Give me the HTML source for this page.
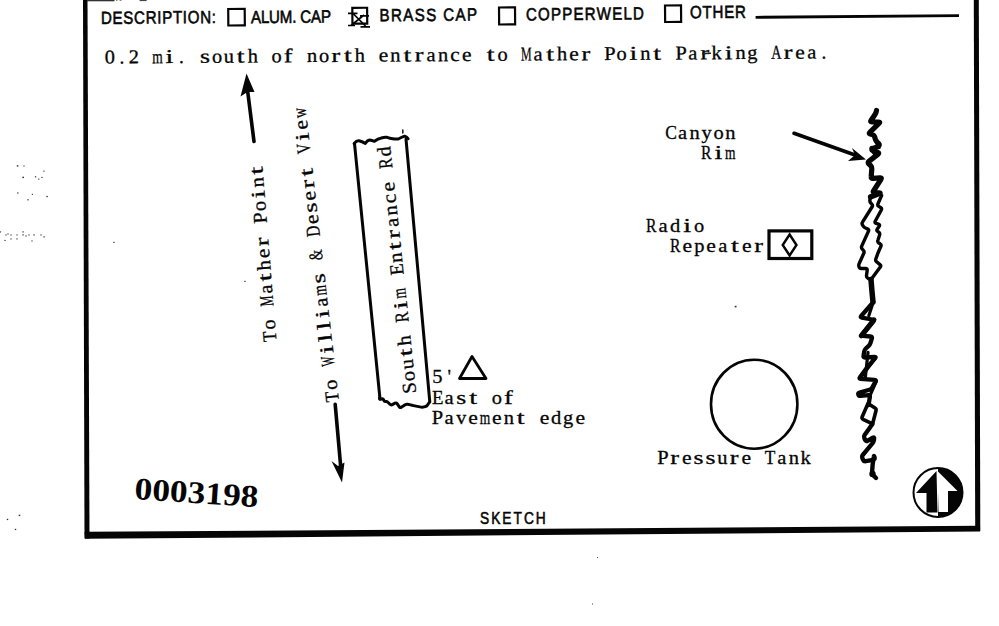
<!DOCTYPE html>
<html><head><meta charset="utf-8">
<style>
html,body{margin:0;padding:0;background:#fff;width:999px;height:626px;overflow:hidden}
svg{position:absolute;left:0;top:0;display:block}
.s{font-family:"Liberation Sans",sans-serif;font-size:17.6px;fill:#050505;stroke:#050505;stroke-width:.6px}
.tw{font-family:"Liberation Serif",serif;font-size:19.5px;fill:#050505;stroke:#050505;stroke-width:.3px}
.n{font-family:"Liberation Serif",serif;font-size:31.5px;font-weight:bold;fill:#050505}
</style></head>
<body>
<svg width="999" height="626" viewBox="0 0 999 626">
<!-- frame -->
<polygon points="83,0 87.5,0 89.5,538.5 84.5,538.5" fill="#050505"/>
<polygon points="84.5,531.8 980,525.8 980,531.5 85,538.8" fill="#050505"/>
<polygon points="973.8,0 978.8,0 980.3,531 975.2,531" fill="#050505"/>
<rect x="87" y="0" width="27.5" height="1.3" fill="#333"/><rect x="116" y="0" width="1.5" height="0.9" fill="#777"/><rect x="119.5" y="0" width="2" height="0.9" fill="#777"/><rect x="139.6" y="0" width="7" height="1.1" fill="#444"/>

<!-- header row -->
<g class="s">
<text transform="translate(101 24) rotate(-0.5) scale(0.86 1)" x="0" y="0" textLength="133.7" lengthAdjust="spacing">DESCRIPTION:</text>
<text transform="translate(251 23.2) rotate(-0.5) scale(0.86 1)" x="0" y="0" textLength="93.0" lengthAdjust="spacing">ALUM. CAP</text>
<text transform="translate(379.5 21.3) rotate(-0.5) scale(0.86 1)" x="0" y="0" textLength="113.4" lengthAdjust="spacing">BRASS CAP</text>
<text transform="translate(526 20.4) rotate(-0.5) scale(0.86 1)" x="0" y="0" textLength="137.2" lengthAdjust="spacing">COPPERWELD</text>
<text transform="translate(690 18.3) rotate(-0.5) scale(0.86 1)" x="0" y="0" textLength="65.1" lengthAdjust="spacing">OTHER</text>
</g>
<g fill="none" stroke="#050505" stroke-width="2.2">
<rect x="228.2" y="9" width="16.5" height="16.5" transform="rotate(-0.5 228 9)"/>
<rect x="499" y="7.5" width="16" height="17" transform="rotate(-0.5 499 7)"/>
<rect x="665" y="5.5" width="16" height="16.5" transform="rotate(-0.5 665 5)"/>
<rect x="352.3" y="7.9" width="14.8" height="15.8" transform="rotate(-0.5 351 7)"/>
</g>
<path d="M353,13.5 L365.5,26 M364,15 L351,25.5 M348,13.3 L357.5,13.3 M360,15.8 L369,15.8 M348,25.5 L355,25.5 M360.5,26.8 L370,26.8" stroke="#050505" stroke-width="1.7" fill="none"/>
<polygon points="755.6,15.9 959,14.2 959,16.9 755.6,18.8" fill="#050505"/>

<!-- description line -->
<g transform="translate(104 63.5) rotate(-0.4)"><text class="tw" transform="translate(0.83 0) scale(1.050 1)">0</text><text class="tw" x="15.41">.</text><text class="tw" transform="translate(24.75 0) scale(1.050 1)">2</text><text class="tw" transform="translate(48.27 0) scale(0.692 1)">m</text><text class="tw" transform="translate(61.49 0) scale(1.450 1)">i</text><text class="tw" x="74.91">.</text><text class="tw" transform="translate(96.10 0) scale(1.315 1)">s</text><text class="tw" transform="translate(107.93 0) scale(1.050 1)">o</text><text class="tw" transform="translate(119.87 0) scale(1.050 1)">u</text><text class="tw" transform="translate(132.87 0) scale(1.450 1)">t</text><text class="tw" transform="translate(143.67 0) scale(1.050 1)">h</text><text class="tw" transform="translate(167.43 0) scale(1.050 1)">o</text><text class="tw" transform="translate(179.64 0) scale(1.357 1)">f</text><text class="tw" transform="translate(203.05 0) scale(1.050 1)">n</text><text class="tw" transform="translate(215.03 0) scale(1.050 1)">o</text><text class="tw" transform="translate(227.52 0) scale(1.349 1)">r</text><text class="tw" transform="translate(239.97 0) scale(1.450 1)">t</text><text class="tw" transform="translate(250.77 0) scale(1.050 1)">h</text><text class="tw" transform="translate(274.81 0) scale(1.108 1)">e</text><text class="tw" transform="translate(286.35 0) scale(1.050 1)">n</text><text class="tw" transform="translate(299.47 0) scale(1.450 1)">t</text><text class="tw" transform="translate(310.82 0) scale(1.349 1)">r</text><text class="tw" transform="translate(322.49 0) scale(1.050 1)">a</text><text class="tw" transform="translate(333.95 0) scale(1.050 1)">n</text><text class="tw" transform="translate(346.24 0) scale(1.094 1)">c</text><text class="tw" transform="translate(358.11 0) scale(1.108 1)">e</text><text class="tw" transform="translate(382.77 0) scale(1.450 1)">t</text><text class="tw" transform="translate(393.53 0) scale(1.050 1)">o</text><text class="tw" transform="translate(417.10 0) scale(0.617 1)">M</text><text class="tw" transform="translate(429.59 0) scale(1.050 1)">a</text><text class="tw" transform="translate(442.27 0) scale(1.450 1)">t</text><text class="tw" transform="translate(453.07 0) scale(1.050 1)">h</text><text class="tw" transform="translate(465.21 0) scale(1.108 1)">e</text><text class="tw" transform="translate(477.42 0) scale(1.349 1)">r</text><text class="tw" transform="translate(500.17 0) scale(1.050 1)">P</text><text class="tw" transform="translate(512.53 0) scale(1.050 1)">o</text><text class="tw" transform="translate(525.59 0) scale(1.450 1)">i</text><text class="tw" transform="translate(536.25 0) scale(1.050 1)">n</text><text class="tw" transform="translate(549.37 0) scale(1.450 1)">t</text><text class="tw" transform="translate(571.57 0) scale(1.050 1)">P</text><text class="tw" transform="translate(584.29 0) scale(1.050 1)">a</text><text class="tw" transform="translate(596.42 0) scale(1.349 1)">r</text><text class="tw" transform="translate(607.54 0) scale(1.050 1)">k</text><text class="tw" transform="translate(620.79 0) scale(1.450 1)">i</text><text class="tw" transform="translate(631.45 0) scale(1.050 1)">n</text><text class="tw" transform="translate(643.19 0) scale(1.050 1)">g</text><text class="tw" transform="translate(667.21 0) scale(0.727 1)">A</text><text class="tw" transform="translate(679.72 0) scale(1.349 1)">r</text><text class="tw" transform="translate(691.31 0) scale(1.108 1)">e</text><text class="tw" transform="translate(703.29 0) scale(1.050 1)">a</text><text class="tw" x="717.51">.</text></g>

<!-- rotated labels -->
<g transform="translate(276.5 342) rotate(-94.6)"><text class="tw" transform="translate(0.64 0) scale(0.890 1)">T</text><text class="tw" transform="translate(12.73 0) scale(1.050 1)">o</text><text class="tw" transform="translate(36.30 0) scale(0.617 1)">M</text><text class="tw" transform="translate(48.79 0) scale(1.050 1)">a</text><text class="tw" transform="translate(61.47 0) scale(1.450 1)">t</text><text class="tw" transform="translate(72.27 0) scale(1.050 1)">h</text><text class="tw" transform="translate(84.41 0) scale(1.108 1)">e</text><text class="tw" transform="translate(96.62 0) scale(1.349 1)">r</text><text class="tw" transform="translate(119.37 0) scale(1.050 1)">P</text><text class="tw" transform="translate(131.73 0) scale(1.050 1)">o</text><text class="tw" transform="translate(144.79 0) scale(1.450 1)">i</text><text class="tw" transform="translate(155.45 0) scale(1.050 1)">n</text><text class="tw" transform="translate(168.57 0) scale(1.450 1)">t</text></g>
<g transform="translate(339 402) rotate(-96.5)"><text class="tw" transform="translate(0.64 0) scale(0.890 1)">T</text><text class="tw" transform="translate(12.73 0) scale(1.050 1)">o</text><text class="tw" transform="translate(36.64 0) scale(0.545 1)">W</text><text class="tw" transform="translate(49.59 0) scale(1.450 1)">i</text><text class="tw" transform="translate(61.52 0) scale(1.450 1)">l</text><text class="tw" transform="translate(73.42 0) scale(1.450 1)">l</text><text class="tw" transform="translate(85.29 0) scale(1.450 1)">i</text><text class="tw" transform="translate(96.39 0) scale(1.050 1)">a</text><text class="tw" transform="translate(107.77 0) scale(0.692 1)">m</text><text class="tw" transform="translate(119.90 0) scale(1.315 1)">s</text><text class="tw" transform="translate(143.22 0) scale(0.711 1)">&amp;</text><text class="tw" transform="translate(167.11 0) scale(0.785 1)">D</text><text class="tw" transform="translate(179.61 0) scale(1.108 1)">e</text><text class="tw" transform="translate(191.30 0) scale(1.315 1)">s</text><text class="tw" transform="translate(203.41 0) scale(1.108 1)">e</text><text class="tw" transform="translate(215.62 0) scale(1.349 1)">r</text><text class="tw" transform="translate(228.07 0) scale(1.450 1)">t</text><text class="tw" transform="translate(250.69 0) scale(0.733 1)">V</text><text class="tw" transform="translate(263.79 0) scale(1.450 1)">i</text><text class="tw" transform="translate(274.81 0) scale(1.108 1)">e</text><text class="tw" transform="translate(286.54 0) scale(0.715 1)">w</text></g>
<g transform="translate(416.3 393.3) rotate(-96)"><text class="tw" transform="translate(0.21 0) scale(1.050 1)">S</text><text class="tw" transform="translate(12.73 0) scale(1.050 1)">o</text><text class="tw" transform="translate(24.67 0) scale(1.050 1)">u</text><text class="tw" transform="translate(37.67 0) scale(1.450 1)">t</text><text class="tw" transform="translate(48.47 0) scale(1.050 1)">h</text><text class="tw" transform="translate(71.90 0) scale(0.805 1)">R</text><text class="tw" transform="translate(85.29 0) scale(1.450 1)">i</text><text class="tw" transform="translate(95.87 0) scale(0.692 1)">m</text><text class="tw" transform="translate(119.41 0) scale(0.964 1)">E</text><text class="tw" transform="translate(131.65 0) scale(1.050 1)">n</text><text class="tw" transform="translate(144.77 0) scale(1.450 1)">t</text><text class="tw" transform="translate(156.12 0) scale(1.349 1)">r</text><text class="tw" transform="translate(167.79 0) scale(1.050 1)">a</text><text class="tw" transform="translate(179.25 0) scale(1.050 1)">n</text><text class="tw" transform="translate(191.54 0) scale(1.094 1)">c</text><text class="tw" transform="translate(203.41 0) scale(1.108 1)">e</text><text class="tw" transform="translate(226.60 0) scale(0.805 1)">R</text><text class="tw" transform="translate(238.59 0) scale(1.050 1)">d</text></g>

<!-- arrows -->
<g stroke="#050505" stroke-width="3.6" fill="none" stroke-linecap="round">
<line x1="254" y1="141.5" x2="247.5" y2="90"/>
<line x1="335.2" y1="404.4" x2="341" y2="470"/>
<line x1="794" y1="133.3" x2="855" y2="155"/>
</g>
<polygon points="246.5,73.5 240.5,96.5 247.5,92 254.5,92" fill="#050505"/>
<polygon points="342,482.5 331.5,461 338,466 344.5,462.5" fill="#050505"/>
<polygon points="866,159.5 852,148 855,155 848,161" fill="#050505"/>

<!-- road box -->
<g stroke="#050505" stroke-width="3" fill="none" stroke-linejoin="round" stroke-linecap="round">
<path d="M354.5,143.5 L380,399"/>
<path d="M406,139 L429.8,402"/>
<path d="M354.1,143.6 Q356.5,140.5 359,140.8 Q362,141.5 365.3,143.4 Q367.5,140.3 369.5,140.1 Q372,140.5 374.4,141.3 Q378,138.5 381.4,138 Q384,137 387,137.3 Q390,138.3 392.7,138.7 Q395.5,139.3 398.3,139 Q401,137.5 404.6,136.2 Q407,137 408.1,138.7"/>
<path d="M379.5,398.0 L379.6,398.9 Q379.8,399.7 381.2,399.1 L381.6,398.9 Q383.0,398.3 383.6,399.7 L383.8,400.4 Q384.4,401.8 385.6,401.5 L385.6,401.5 Q386.8,401.1 387.9,402.2 L389.9,404.2 Q391.0,405.3 392.3,404.6 L395.0,403.2 Q396.3,402.5 397.1,403.7 L399.3,406.9 Q400.1,408.1 401.3,407.3 L405.2,404.7 Q406.4,403.9 407.9,404.3 L410.5,404.9 Q412.0,405.3 413.5,405.6 L421.1,407.1 Q422.6,407.4 424.0,406.9 L425.4,406.5 Q426.8,406.0 427.6,404.8 L429.5,402.0"/>
<path d="M402.8,130 L402.8,133" stroke-width="1.4"/>
</g>

<!-- 5' triangle -->
<g transform="translate(431.5 383.3)"><text class="tw" transform="translate(0.64 0) scale(1.050 1)">5</text><text class="tw" x="16.09">&#x27;</text></g>
<polygon points="472,356.5 459.5,378.5 486,378.5" fill="none" stroke="#050505" stroke-width="2.8" stroke-linejoin="round"/>
<g transform="translate(431.5 404)"><text class="tw" transform="translate(0.41 0) scale(0.964 1)">E</text><text class="tw" transform="translate(13.09 0) scale(1.050 1)">a</text><text class="tw" transform="translate(24.70 0) scale(1.315 1)">s</text><text class="tw" transform="translate(37.67 0) scale(1.450 1)">t</text><text class="tw" transform="translate(60.33 0) scale(1.050 1)">o</text><text class="tw" transform="translate(72.54 0) scale(1.357 1)">f</text></g>
<g transform="translate(431.5 424.4)"><text class="tw" transform="translate(0.37 0) scale(1.050 1)">P</text><text class="tw" transform="translate(13.09 0) scale(1.050 1)">a</text><text class="tw" transform="translate(24.75 0) scale(1.026 1)">v</text><text class="tw" transform="translate(36.81 0) scale(1.108 1)">e</text><text class="tw" transform="translate(48.27 0) scale(0.692 1)">m</text><text class="tw" transform="translate(60.61 0) scale(1.108 1)">e</text><text class="tw" transform="translate(72.15 0) scale(1.050 1)">n</text><text class="tw" transform="translate(85.27 0) scale(1.450 1)">t</text><text class="tw" transform="translate(108.21 0) scale(1.108 1)">e</text><text class="tw" transform="translate(119.59 0) scale(1.050 1)">d</text><text class="tw" transform="translate(131.49 0) scale(1.050 1)">g</text><text class="tw" transform="translate(143.91 0) scale(1.108 1)">e</text></g>

<!-- right side labels -->
<g transform="translate(665 139.3)"><text class="tw" transform="translate(0.23 0) scale(0.898 1)">C</text><text class="tw" transform="translate(13.09 0) scale(1.050 1)">a</text><text class="tw" transform="translate(24.55 0) scale(1.050 1)">n</text><text class="tw" transform="translate(36.45 0) scale(1.050 1)">y</text><text class="tw" transform="translate(48.43 0) scale(1.050 1)">o</text><text class="tw" transform="translate(60.25 0) scale(1.050 1)">n</text></g>
<g transform="translate(700.5 158.8)"><text class="tw" transform="translate(0.50 0) scale(0.805 1)">R</text><text class="tw" transform="translate(13.89 0) scale(1.450 1)">i</text><text class="tw" transform="translate(24.47 0) scale(0.692 1)">m</text></g>
<g transform="translate(645.5 231.6)"><text class="tw" transform="translate(0.50 0) scale(0.805 1)">R</text><text class="tw" transform="translate(13.09 0) scale(1.050 1)">a</text><text class="tw" transform="translate(24.39 0) scale(1.050 1)">d</text><text class="tw" transform="translate(37.69 0) scale(1.450 1)">i</text><text class="tw" transform="translate(48.43 0) scale(1.050 1)">o</text></g>
<g transform="translate(669.5 251.6)"><text class="tw" transform="translate(0.50 0) scale(0.805 1)">R</text><text class="tw" transform="translate(13.01 0) scale(1.108 1)">e</text><text class="tw" transform="translate(24.87 0) scale(1.050 1)">p</text><text class="tw" transform="translate(36.81 0) scale(1.108 1)">e</text><text class="tw" transform="translate(48.79 0) scale(1.050 1)">a</text><text class="tw" transform="translate(61.47 0) scale(1.450 1)">t</text><text class="tw" transform="translate(72.51 0) scale(1.108 1)">e</text><text class="tw" transform="translate(84.72 0) scale(1.349 1)">r</text></g>
<rect x="769" y="230.9" width="42.8" height="27.6" fill="none" stroke="#050505" stroke-width="3.2"/>
<polygon points="789.6,234.5 796.5,245 789.6,255.5 782.7,245" fill="none" stroke="#050505" stroke-width="2.4"/>
<ellipse cx="754.2" cy="404.2" rx="43.2" ry="44.5" fill="none" stroke="#050505" stroke-width="2.6"/>
<g transform="translate(657 463.5)"><text class="tw" transform="translate(0.37 0) scale(1.050 1)">P</text><text class="tw" transform="translate(13.32 0) scale(1.349 1)">r</text><text class="tw" transform="translate(24.91 0) scale(1.108 1)">e</text><text class="tw" transform="translate(36.60 0) scale(1.315 1)">s</text><text class="tw" transform="translate(48.50 0) scale(1.315 1)">s</text><text class="tw" transform="translate(60.37 0) scale(1.050 1)">u</text><text class="tw" transform="translate(72.82 0) scale(1.349 1)">r</text><text class="tw" transform="translate(84.41 0) scale(1.108 1)">e</text><text class="tw" transform="translate(107.74 0) scale(0.890 1)">T</text><text class="tw" transform="translate(120.19 0) scale(1.050 1)">a</text><text class="tw" transform="translate(131.65 0) scale(1.050 1)">n</text><text class="tw" transform="translate(143.44 0) scale(1.050 1)">k</text></g>

<!-- canyon rim squiggle -->
<g stroke="#050505" fill="none" stroke-linejoin="round" stroke-linecap="round">
<path stroke-width="5.2" d="M876.5,110.5 L876.2,111.8 Q876.0,113.0 875.0,114.5 L871.0,120.5 Q870.0,122.0 871.8,122.0 L878.7,122.0 Q880.5,122.0 879.2,123.2 L869.8,132.3 Q868.5,133.5 870.2,134.0 L872.3,134.5 Q874.0,135.0 874.6,136.7 L875.4,139.3 Q876.0,141.0 877.3,142.3 L878.7,143.7 Q880.0,145.0 878.4,145.9 L872.6,149.1 Q871.0,150.0 872.7,150.6 L877.8,152.4 Q879.5,153.0 878.1,154.1 L868.9,161.4 Q867.5,162.5 868.8,163.8 L870.7,165.7 Q872.0,167.0 871.8,168.8 L871.2,176.7 Q871.0,178.5 872.8,178.4 L880.2,177.8 Q882.0,177.7 881.0,179.2 L873.5,191.0 Q872.5,192.5 874.3,192.6 L879.2,192.9 Q881.0,193.0 879.3,193.6 L870.5,197.0"/>
<path stroke-width="3.6" d="M879.0,147.5 L872.3,147.5 Q870.5,147.5 871.5,149.0 L876.0,156.0"/>
<path stroke-width="3.4" d="M870.6,196.0 L869.9,199.9 Q869.6,201.7 870.8,203.0 L871.8,204.2 Q873.0,205.5 872.0,207.0 L862.5,222.2 Q861.5,223.7 862.6,225.1 L863.3,226.2 Q864.4,227.6 866.1,228.3 L867.5,228.8 Q869.2,229.5 868.5,231.1 L861.7,246.1 Q861.0,247.7 862.2,249.0 L863.4,250.4 Q864.6,251.7 863.8,253.3 L859.2,263.5 Q858.4,265.1 859.0,266.8 L859.0,266.8 Q859.5,268.5 861.3,268.5 L865.6,268.5 Q867.4,268.5 867.2,270.3 L866.5,275.6 Q866.3,277.4 867.9,278.2 L870.7,279.7"/>
<path stroke-width="3.4" d="M881.6,195.5 L878.0,203.8 Q877.3,205.5 878.8,206.4 L880.6,207.5 Q882.1,208.4 881.3,210.0 L875.2,221.2 Q874.4,222.8 876.1,223.4 L878.5,224.1 Q880.2,224.7 879.2,226.2 L877.3,228.9 Q876.3,230.4 877.7,231.5 L878.8,232.2 Q880.2,233.3 879.6,235.0 L877.9,240.3 Q877.3,242.0 878.8,243.0 L880.1,243.8 Q881.6,244.8 880.9,246.4 L878.5,251.8 Q877.8,253.4 877.2,255.1 L875.8,259.0 Q875.2,260.7 876.6,261.8 L880.0,264.6 Q881.4,265.7 880.3,267.1 L871.8,278.6"/>
<path stroke-width="5.5" d="M871.0,279.5 L871.7,287.9 Q871.8,289.7 872.0,291.5 L873.0,302.0"/>
<path stroke-width="4.3" d="M873.2,302.2 L861.2,316.0 Q860.0,317.4 861.8,317.7 L872.2,319.5 Q874.0,319.8 872.9,321.2 L862.3,334.4 Q861.2,335.8 863.0,335.9 L870.6,336.5 Q872.4,336.6 871.9,338.3 L870.5,342.9 Q870.0,344.6 868.7,345.8 L865.8,348.5 Q864.5,349.7 864.2,351.5 L863.5,355.8 Q863.2,357.6 865.0,357.5 L874.6,356.8 Q876.4,356.7 875.2,358.1 L867.9,366.7 Q866.7,368.1 865.6,369.5 L859.9,377.3 Q858.8,378.7 860.6,378.8 L874.6,379.9 Q876.4,380.0 875.5,381.6 L872.0,387.7 Q871.1,389.3 869.4,389.8 L859.6,392.5 Q857.9,393.0 858.3,394.5 L858.3,394.5 Q858.8,396.0 860.6,395.9 L868.4,395.2 Q870.2,395.1 869.9,396.9 L868.5,405.2"/>
<path stroke-width="3.2" d="M873.2,302.2 L868.8,315.8"/>
<path stroke-width="2.6" d="M874.5,321.5 L864.0,334.5"/>
<path stroke-width="2.6" d="M875.5,358.5 L862.0,376.5"/>
<path stroke-width="2.4" d="M873.5,442.0 L863.0,456.0"/>
<path stroke-width="5.0" d="M874.0,319.8 L861.2,335.8"/>
<path stroke-width="3.2" d="M868.0,352.3 L865.4,377.0"/>
<path stroke-width="3.2" d="M876.4,381.0 L870.2,395.1"/>
<path stroke-width="3.6" d="M868.0,403.5 L875.0,408.0 Q876.5,409.0 876.0,410.7 L873.0,422.3 Q872.5,424.0 870.9,423.2 L863.1,419.3 Q861.5,418.5 862.2,416.8 L868.0,403.5"/>
<path stroke-width="4.4" d="M872.5,424.0 L870.3,427.0 Q869.3,428.5 868.2,430.0 L864.6,435.0 Q863.5,436.5 864.3,438.1 L865.2,439.9 Q866.0,441.5 867.6,440.7 L872.9,437.8 Q874.5,437.0 874.1,438.8 L873.9,440.2 Q873.5,442.0 872.4,443.4 L862.6,455.1 Q861.5,456.5 862.3,458.1 L863.2,459.9 Q864.0,461.5 865.8,461.2 L873.2,459.8 Q875.0,459.5 874.6,457.7 L874.4,456.8 Q874.0,455.0 873.8,456.8 L872.7,464.2 Q872.5,466.0 872.4,467.8 L872.1,472.2 Q872.0,474.0 873.3,475.3 L876.0,478.0"/>
<circle cx="872.5" cy="474" r="3.2" fill="#050505" stroke="none"/>
</g>

<!-- north arrow -->
<g>
<circle cx="938" cy="492.5" r="24.5" fill="#fff" stroke="#050505" stroke-width="2"/>
<path d="M938,468 A24.5,24.5 0 0 1 938,517 Z" fill="#050505"/>
<polygon points="936.5,471 916,493 926.5,493 926.5,512.5 937.5,512.5" fill="#050505"/>
<polygon points="937.5,471 957.5,491 948,491 948,512 938.5,512" fill="#fff"/>
</g>

<!-- stamp number -->
<text class="n" x="134" y="499" textLength="124" lengthAdjust="spacingAndGlyphs" transform="rotate(3.8 134 499)">0003198</text>

<!-- SKETCH -->
<text class="s" transform="translate(480 524) scale(0.86 1)" x="0" y="0" textLength="76.5" lengthAdjust="spacing" style="font-size:16px;stroke-width:.55px">SKETCH</text>
<!-- specks -->
<g fill="#333"><rect x="16.8" y="165.2" width="1.6" height="1.4"/><rect x="23.4" y="165.4" width="1.2" height="1.1"/><rect x="43.3" y="170.6" width="1.2" height="1.1"/><rect x="22.4" y="176.7" width="1.6" height="1.4"/><rect x="34.9" y="176.2" width="1.3" height="1.2"/><rect x="38.2" y="178.6" width="1.2" height="1.1"/><rect x="41.4" y="176.9" width="1.2" height="1.1"/><rect x="17.2" y="192.4" width="1.3" height="1.2"/><rect x="31.8" y="193.8" width="1.2" height="1.1"/><rect x="46.4" y="195.9" width="1.4" height="1.3"/><rect x="27.4" y="199.2" width="1.3" height="1.2"/><rect x="-0.1" y="231.4" width="1.2" height="1.1"/><rect x="4.4" y="239.9" width="1.2" height="1.1"/><rect x="5.4" y="234.4" width="1.2" height="1.1"/><rect x="7.4" y="233.4" width="1.2" height="1.1"/><rect x="10.4" y="234.4" width="1.2" height="1.1"/><rect x="10.4" y="238.4" width="1.2" height="1.1"/><rect x="16.4" y="234.4" width="1.2" height="1.1"/><rect x="16.4" y="238.4" width="1.2" height="1.1"/><rect x="22.4" y="231.3" width="1.3" height="1.2"/><rect x="22.4" y="234.3" width="1.3" height="1.2"/><rect x="25.4" y="235.4" width="1.2" height="1.1"/><rect x="28.4" y="234.4" width="1.2" height="1.1"/><rect x="33.4" y="234.3" width="1.3" height="1.2"/><rect x="40.4" y="234.4" width="1.2" height="1.1"/><rect x="43.4" y="236.3" width="1.3" height="1.2"/><rect x="31.4" y="240.4" width="1.2" height="1.1"/><rect x="18.7" y="514.7" width="1.6" height="1.4"/><rect x="6.8" y="518.8" width="1.4" height="1.3"/><rect x="14.8" y="528.8" width="1.4" height="1.3"/><rect x="597.0" y="557.0" width="1" height="0.9"/><rect x="592.0" y="603.5" width="1" height="0.9"/><rect x="113.3" y="241.8" width="1.3" height="1.2"/><rect x="244.3" y="280.8" width="1.3" height="1.2"/><rect x="734.7" y="305.8" width="1.8" height="1.6"/><rect x="402.1" y="130.9" width="1.2" height="1.1"/></g>
<path d="M702,53.6 L711,53.3" stroke="#222" stroke-width="1.6"/>
</svg>
</body></html>
